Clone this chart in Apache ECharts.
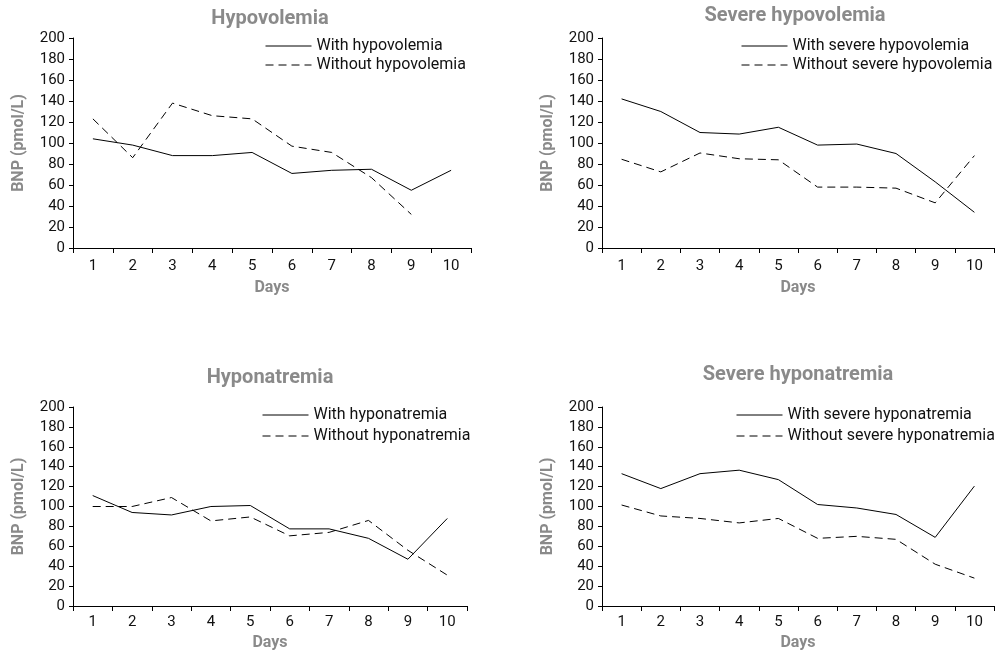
<!DOCTYPE html>
<html>
<head>
<meta charset="utf-8">
<script src="https://cdn.jsdelivr.net/npm/echarts@6/dist/echarts.min.js"></script>
<style>html,body{margin:0;padding:0;background:#fff;}#c{width:997px;height:652px;}</style>
</head>
<body>
<div id="c"></div>
<script>
const days = ['1','2','3','4','5','6','7','8','9','10'];
const yTicks = {min: 0, max: 200, interval: 20};

const titles = ['Hypovolemia', 'Severe hypovolemia', 'Hyponatremia', 'Severe hyponatremia'];
const withNames = ['With hypovolemia', 'With severe hypovolemia', 'With hyponatremia', 'With severe hyponatremia'];
const withoutNames = ['Without hypovolemia', 'Without severe hypovolemia', 'Without hyponatremia', 'Without severe hyponatremia'];

const hypovolemiaWith    = [104, 98, 88, 88, 91, 71, 74, 75, 55, 74];
const hypovolemiaWithout = [123, 86, 138, 126, 123, 97, 91, 67, 32, null];
const sevHypovolemiaWith    = [142, 130, 110, 108.5, 115, 98, 99, 90, 63, 34];
const sevHypovolemiaWithout = [84.5, 72.5, 90.5, 85, 84, 58, 58, 57, 43, 88];
const hyponatremiaWith    = [111, 94, 91.5, 100, 101, 77.5, 77.5, 68, 47, 88];
const hyponatremiaWithout = [100, 100, 109, 85.5, 89.5, 70.5, 74, 86, 56, 31];
const sevHyponatremiaWith    = [133, 118, 133, 136.5, 127, 102, 98.5, 92, 69, 120.5];
const sevHyponatremiaWithout = [101.5, 90.5, 88, 83.5, 88, 68, 70, 67, 42, 28];

const withData = [hypovolemiaWith, sevHypovolemiaWith, hyponatremiaWith, sevHyponatremiaWith];
const withoutData = [hypovolemiaWithout, sevHypovolemiaWithout, hyponatremiaWithout, sevHyponatremiaWithout];

const FONT = 'Roboto, "Noto Sans", "DejaVu Sans", sans-serif';
const GRAY = '#8a8a8a';

const grids = [
  {left: 73, top: 38, width: 398, height: 210},
  {left: 602, top: 38, width: 392, height: 210},
  {left: 73, top: 407, width: 394, height: 202},
  {left: 602, top: 407, width: 392, height: 202}
];
const titlePos = [[270, 9], [795, 6], [270, 368], [798, 365]];
const legendPos = [[265, 38, 3], [741, 38, 3], [262, 407, 5], [736, 407, 5]];
const labelMargin = [11, 11, 9, 9];
const daysGap = [32, 32, 29, 29];

const option = {
  backgroundColor: '#fff',
  animation: false,
  textStyle: {fontFamily: FONT},
  title: titles.map((t, i) => ({
    text: t, left: titlePos[i][0], top: titlePos[i][1], textAlign: 'center', padding: 0,
    textStyle: {fontFamily: FONT, fontSize: 20, fontWeight: 'bold', color: GRAY}
  })),
  grid: grids,
  legend: legendPos.map((p, i) => ({
    data: [withNames[i], withoutNames[i]],
    left: p[0], top: p[1], orient: 'vertical', padding: 0,
    itemWidth: 46, itemHeight: 13, itemGap: p[2],
    itemStyle: {opacity: 0, borderWidth: 0},
    lineStyle: {width: 1, color: '#000'},
    textStyle: {fontFamily: FONT, fontSize: 16, color: '#111', lineHeight: 14}
  })),
  xAxis: grids.map((g, i) => ({
    type: 'category', gridIndex: i, data: days, boundaryGap: true,
    name: 'Days', nameLocation: 'middle', nameGap: daysGap[i],
    nameTextStyle: {fontFamily: FONT, fontSize: 16, fontWeight: 'bold', color: GRAY},
    axisLine: {show: true, lineStyle: {color: '#000', width: 1}},
    axisTick: {show: true, length: 5, lineStyle: {color: '#000'}},
    axisLabel: {fontFamily: FONT, fontSize: 15, color: '#111', margin: labelMargin[i], interval: 0},
    splitLine: {show: false}
  })),
  yAxis: grids.map((g, i) => ({
    type: 'value', gridIndex: i, min: yTicks.min, max: yTicks.max, interval: yTicks.interval,
    name: 'BNP (pmol/L)', nameLocation: 'middle', nameGap: 46,
    nameTextStyle: {fontFamily: FONT, fontSize: 16, fontWeight: 'bold', color: GRAY},
    axisLine: {show: true, lineStyle: {color: '#000', width: 1}},
    axisTick: {show: true, length: 4, lineStyle: {color: '#000'}},
    axisLabel: {fontFamily: FONT, fontSize: 15, color: '#111', margin: 8},
    splitLine: {show: false}
  })),
  series: []
};

for (let i = 0; i < 4; i++) {
  option.series.push({
    name: withNames[i], type: 'line', xAxisIndex: i, yAxisIndex: i,
    data: withData[i], symbol: 'none', lineStyle: {color: '#000', width: 1, type: 'solid'},
    itemStyle: {color: '#000'}
  });
  option.series.push({
    name: withoutNames[i], type: 'line', xAxisIndex: i, yAxisIndex: i,
    data: withoutData[i], symbol: 'none', lineStyle: {color: '#000', width: 1, type: [8, 5]},
    itemStyle: {color: '#000'}
  });
}

const chart = echarts.init(document.getElementById('c'), null, {renderer: 'canvas'});
chart.setOption(option);
</script>
</body>
</html>
